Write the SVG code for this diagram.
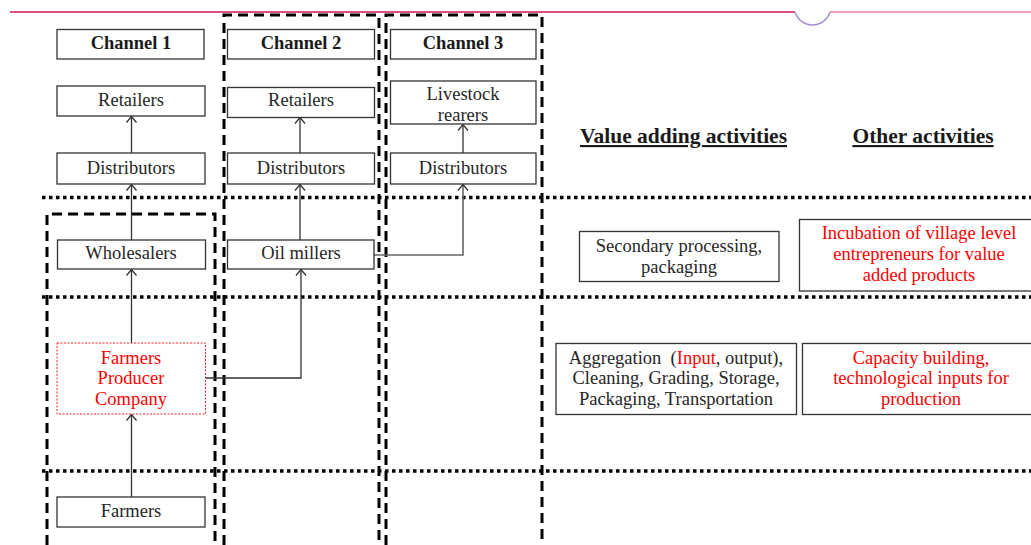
<svg xmlns="http://www.w3.org/2000/svg" width="1031" height="545" viewBox="0 0 1031 545">
  <style>
    .box { fill: #fff; stroke: #333; stroke-width: 1.3; }
    .fpc { fill: #fff; stroke: #ff2020; stroke-width: 1; stroke-dasharray: 2 1.5; }
    .t { font-family: "Liberation Serif", "Times New Roman", serif; font-size: 18.5px; fill: #262626; text-anchor: middle; }
    .red { fill: #ff0000; }
    .title { font-weight: bold; fill: #1a1a1a; }
    .head { font-family: "Liberation Serif", "Times New Roman", serif; font-size: 21.5px; font-weight: bold; fill: #1a1a1a; text-anchor: middle; text-decoration: underline; }
    .dash { fill: none; stroke: #000; stroke-width: 3; stroke-dasharray: 10 6; }
    .dot { fill: none; stroke: #000; stroke-width: 3.5; stroke-dasharray: 3.5 3.5; }
    .link { fill: none; stroke: #333; stroke-width: 1.3; marker-end: url(#head); }
    .link2 { fill: none; stroke: #666; stroke-width: 1.6; marker-end: url(#head); }
  </style>
  <defs>
    <marker id="head" markerUnits="userSpaceOnUse" markerWidth="12" markerHeight="12" refX="10" refY="5" orient="auto" overflow="visible">
      <path d="M4,0 L10,5 L4,10" fill="none" stroke="#333" stroke-width="1.3"/>
    </marker>
  </defs>

  <rect width="1031" height="545" fill="#fff"/>

  <!-- page header rule with tab notch -->
  <g id="header-rule">
    <line x1="10" y1="12" x2="795" y2="12" stroke="#e0507a" stroke-width="2"/>
    <line x1="830" y1="12" x2="1031" y2="12" stroke="#f07fa0" stroke-width="1.4"/>
    <path d="M795,12 A18.3,18.3 0 0 0 830,12" fill="none" stroke="#a58fd0" stroke-width="1.5"/>
  </g>

  <!-- channel boundaries and level separators -->
  <g id="frames">
    <path class="dash" d="M47,545 V214 H215 V545"/>
    <path class="dash" d="M224,545 V15 H379 V545"/>
    <path class="dash" d="M386,545 V15 H542 V545"/>
    <line class="dot" x1="42" y1="197.5" x2="1031" y2="197.5"/>
    <line class="dot" x1="42" y1="297" x2="1031" y2="297"/>
    <line class="dot" x1="42" y1="471" x2="1031" y2="471"/>
  </g>

  <!-- connectors -->
  <g id="connectors">
    <line class="link" x1="131.5" y1="153" x2="131.5" y2="116.5"/>
    <line class="link" x1="300" y1="153" x2="300" y2="117.5"/>
    <line class="link" x1="463" y1="153" x2="463" y2="124.5"/>
    <line class="link" x1="131.5" y1="240" x2="131.5" y2="184.5"/>
    <line class="link" x1="300" y1="240" x2="300" y2="184.5"/>
    <polyline class="link2" points="374,255 463,255 463,184.5"/>
    <line class="link" x1="131.5" y1="343" x2="131.5" y2="269.5"/>
    <polyline class="link" points="205,378 301,378 301,269.5"/>
    <line class="link" x1="131.5" y1="497" x2="131.5" y2="414.5"/>
  </g>

  <!-- channel headings -->
  <g id="channel-1">
    <rect class="box" x="57" y="29.5" width="147" height="29.5"/>
    <text class="t title" x="131" y="49">Channel 1</text>
  </g>
  <g id="channel-2">
    <rect class="box" x="227.5" y="29.5" width="147" height="29.5"/>
    <text class="t title" x="301" y="49">Channel 2</text>
  </g>
  <g id="channel-3">
    <rect class="box" x="390.5" y="29.5" width="145.5" height="29.5"/>
    <text class="t title" x="463" y="49">Channel 3</text>
  </g>

  <!-- channel 1 -->
  <g id="retailers-1">
    <rect class="box" x="57" y="86" width="148" height="30"/>
    <text class="t" x="131" y="105.5">Retailers</text>
  </g>
  <g id="distributors-1">
    <rect class="box" x="57" y="153" width="148" height="31"/>
    <text class="t" x="131" y="174">Distributors</text>
  </g>
  <g id="wholesalers">
    <rect class="box" x="57.5" y="240" width="148" height="29"/>
    <text class="t" x="131" y="258.5">Wholesalers</text>
  </g>
  <g id="fpc">
    <rect class="fpc" x="57" y="343" width="148.5" height="71"/>
    <text class="t red" x="131" y="363.5">Farmers</text>
    <text class="t red" x="131" y="384">Producer</text>
    <text class="t red" x="131" y="404.5">Company</text>
  </g>
  <g id="farmers">
    <rect class="box" x="57" y="497" width="148" height="30"/>
    <text class="t" x="131" y="516.5">Farmers</text>
  </g>

  <!-- channel 2 -->
  <g id="retailers-2">
    <rect class="box" x="227.5" y="87.5" width="147" height="30"/>
    <text class="t" x="301" y="106">Retailers</text>
  </g>
  <g id="distributors-2">
    <rect class="box" x="227.5" y="153" width="147" height="31"/>
    <text class="t" x="301" y="174">Distributors</text>
  </g>
  <g id="oil-millers">
    <rect class="box" x="227.5" y="240" width="146.5" height="29"/>
    <text class="t" x="301" y="258.5">Oil millers</text>
  </g>

  <!-- channel 3 -->
  <g id="livestock-rearers">
    <rect class="box" x="390.5" y="81" width="145.5" height="43"/>
    <text class="t" x="463" y="100">Livestock</text>
    <text class="t" x="463" y="120.5">rearers</text>
  </g>
  <g id="distributors-3">
    <rect class="box" x="390.5" y="153" width="145.5" height="31"/>
    <text class="t" x="463" y="174">Distributors</text>
  </g>

  <!-- activity columns -->
  <g id="value-adding-heading">
    <text class="head" x="683.5" y="143">Value adding activities</text>
  </g>
  <g id="other-heading">
    <text class="head" x="923" y="143">Other activities</text>
  </g>
  <g id="secondary-processing">
    <rect class="box" x="579.5" y="231.5" width="199.5" height="50"/>
    <text class="t" x="679" y="251.5">Secondary processing,</text>
    <text class="t" x="679" y="272.5">packaging</text>
  </g>
  <g id="incubation">
    <rect class="box" x="799.5" y="219.5" width="240" height="71.5"/>
    <text class="t red" x="919" y="238.5">Incubation of village level</text>
    <text class="t red" x="919" y="259.5">entrepreneurs for value</text>
    <text class="t red" x="919" y="280.5">added products</text>
  </g>
  <g id="aggregation">
    <rect class="box" x="556" y="343.5" width="240.5" height="71"/>
    <text class="t" x="676" y="363.5" style="white-space:pre">Aggregation  (<tspan class="red">Input</tspan>, output),</text>
    <text class="t" x="676" y="384">Cleaning, Grading, Storage,</text>
    <text class="t" x="676" y="404.5">Packaging, Transportation</text>
  </g>
  <g id="capacity-building">
    <rect class="box" x="802.5" y="343.5" width="240" height="71"/>
    <text class="t red" x="921" y="363.5">Capacity building,</text>
    <text class="t red" x="921" y="384">technological inputs for</text>
    <text class="t red" x="921" y="404.5">production</text>
  </g>
</svg>
